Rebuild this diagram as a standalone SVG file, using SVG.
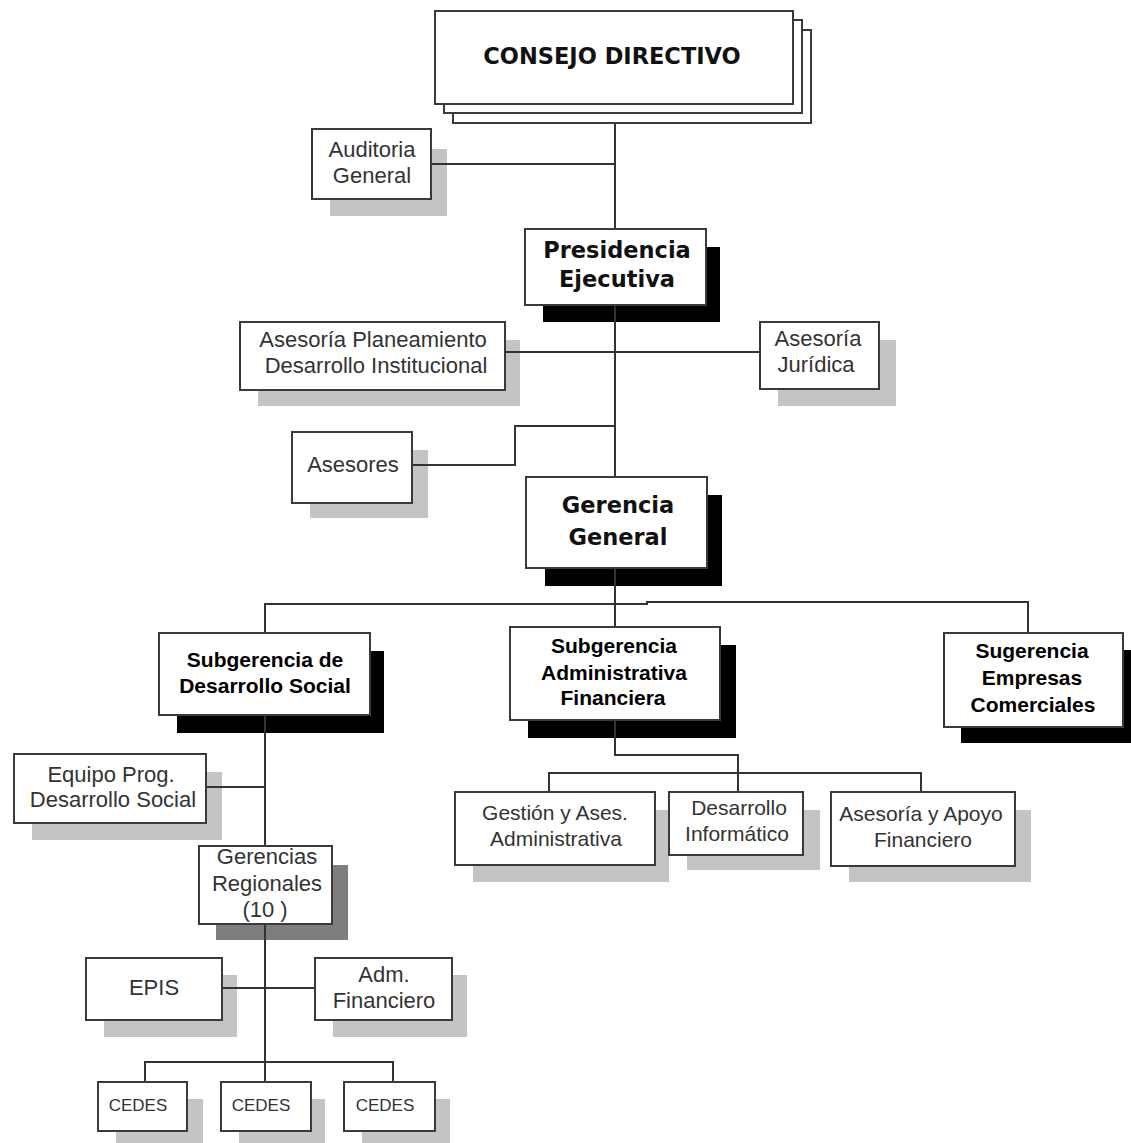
<svg xmlns="http://www.w3.org/2000/svg" width="1131" height="1143" viewBox="0 0 1131 1143">
<style>
.box{fill:#fff;stroke:#3a3a3a;stroke-width:2}
.sh{fill:#c4c4c4}
.shd{fill:#7e7e7e}
.shb{fill:#000}
.ln{fill:none;stroke:#333;stroke-width:2}
.t{font-family:"Liberation Sans",Arial,sans-serif;font-size:22px;fill:#333;text-anchor:middle}
.ts{font-size:21px}
.tc{font-size:17px}
.b{font-family:"Liberation Sans",Arial,sans-serif;font-weight:bold;font-size:21px;fill:#000;text-anchor:middle}
.v{font-family:"DejaVu Sans",Verdana,sans-serif;font-weight:bold;font-size:22.5px;fill:#111;text-anchor:middle}
</style>
<rect width="1131" height="1143" fill="#fff"/>
<g id="consejo">
<rect class="box" x="453" y="30" width="358" height="93"/>
<rect class="box" x="444" y="20" width="358" height="93"/>
<rect class="box" x="435" y="11" width="358" height="93"/>
<text class="v" x="612" y="64">CONSEJO DIRECTIVO</text>
</g>
<g id="auditoria">
<rect class="sh" x="330" y="149" width="117" height="67"/>
<rect class="box" x="312" y="129" width="119" height="70"/>
<text class="t" x="372" y="157">Auditoria</text>
<text class="t" x="372" y="183">General</text>
</g>
<g id="presidencia">
<rect class="shb" x="543" y="247" width="177" height="75"/>
<rect class="box" x="525" y="229" width="181" height="76"/>
<text class="v" x="617" y="258">Presidencia</text>
<text class="v" x="617" y="287">Ejecutiva</text>
</g>
<g id="asesoria-planeamiento">
<rect class="sh" x="258" y="340" width="262" height="66"/>
<rect class="box" x="240" y="322" width="265" height="68"/>
<text class="t" x="373" y="347">Asesoría Planeamiento</text>
<text class="t" x="376" y="373">Desarrollo Institucional</text>
</g>
<g id="asesoria-juridica">
<rect class="sh" x="778" y="340" width="118" height="66"/>
<rect class="box" x="760" y="322" width="119" height="67"/>
<text class="t" x="818" y="346">Asesoría</text>
<text class="t" x="816" y="372">Jurídica</text>
</g>
<g id="asesores">
<rect class="sh" x="310" y="450" width="118" height="68"/>
<rect class="box" x="292" y="432" width="120" height="71"/>
<text class="t" x="353" y="472">Asesores</text>
</g>
<g id="gerencia-general">
<rect class="shb" x="545" y="495" width="177" height="91"/>
<rect class="box" x="526" y="477" width="181" height="91"/>
<text class="v" x="618" y="513">Gerencia</text>
<text class="v" x="618" y="545">General</text>
</g>
<g id="subgerencia-desarrollo-social">
<rect class="shb" x="177" y="651" width="207" height="82"/>
<rect class="box" x="159" y="633" width="211" height="82"/>
<text class="b" x="265" y="667">Subgerencia de</text>
<text class="b" x="265" y="693">Desarrollo Social</text>
</g>
<g id="subgerencia-administrativa">
<rect class="shb" x="528" y="645" width="208" height="93"/>
<rect class="box" x="510" y="627" width="210" height="93"/>
<text class="b" x="614" y="653">Subgerencia</text>
<text class="b" x="614" y="680">Administrativa</text>
<text class="b" x="613" y="705">Financiera</text>
</g>
<g id="sugerencia-empresas">
<rect class="shb" x="961" y="650" width="170" height="93"/>
<rect class="box" x="944" y="633" width="179" height="94"/>
<text class="b" x="1032" y="658">Sugerencia</text>
<text class="b" x="1032" y="685">Empresas</text>
<text class="b" x="1033" y="712">Comerciales</text>
</g>
<g id="equipo-prog">
<rect class="sh" x="32" y="772" width="190" height="68"/>
<rect class="box" x="14" y="754" width="192" height="69"/>
<text class="t" x="111" y="782">Equipo Prog.</text>
<text class="t" x="113" y="807">Desarrollo Social</text>
</g>
<g id="gestion">
<rect class="sh" x="473" y="810" width="196" height="72"/>
<rect class="box" x="455" y="792" width="200" height="73"/>
<text class="t ts" x="555" y="820">Gestión y Ases.</text>
<text class="t ts" x="556" y="846">Administrativa</text>
</g>
<g id="desarrollo-informatico">
<rect class="sh" x="687" y="810" width="133" height="60"/>
<rect class="box" x="669" y="792" width="134" height="63"/>
<text class="t ts" x="739" y="815">Desarrollo</text>
<text class="t ts" x="737" y="841">Informático</text>
</g>
<g id="asesoria-apoyo">
<rect class="sh" x="849" y="810" width="182" height="72"/>
<rect class="box" x="831" y="792" width="184" height="74"/>
<text class="t ts" x="921" y="821">Asesoría y Apoyo</text>
<text class="t ts" x="923" y="847">Financiero</text>
</g>
<g id="gerencias-regionales">
<rect class="shd" x="216" y="865" width="132" height="75"/>
<rect class="box" x="199" y="846" width="133" height="78"/>
<text class="t" x="267" y="864">Gerencias</text>
<text class="t" x="267" y="891">Regionales</text>
<text class="t" x="265" y="917">(10 )</text>
</g>
<g id="epis">
<rect class="sh" x="104" y="975" width="133" height="62"/>
<rect class="box" x="86" y="958" width="136" height="62"/>
<text class="t" x="154" y="995">EPIS</text>
</g>
<g id="adm-financiero">
<rect class="sh" x="333" y="975" width="134" height="62"/>
<rect class="box" x="315" y="958" width="137" height="62"/>
<text class="t" x="384" y="982">Adm.</text>
<text class="t" x="384" y="1008">Financiero</text>
</g>
<g id="cedes-1">
<rect class="sh" x="116" y="1099" width="87" height="44"/>
<rect class="box" x="98" y="1082" width="89" height="49"/>
<text class="t tc" x="138" y="1111">CEDES</text>
</g>
<g id="cedes-2">
<rect class="sh" x="239" y="1099" width="86" height="44"/>
<rect class="box" x="221" y="1082" width="90" height="49"/>
<text class="t tc" x="261" y="1111">CEDES</text>
</g>
<g id="cedes-3">
<rect class="sh" x="362" y="1099" width="88" height="44"/>
<rect class="box" x="344" y="1082" width="91" height="49"/>
<text class="t tc" x="385" y="1111">CEDES</text>
</g>
<g id="connectors">
<path class="ln" d="M615,124 V228"/>
<path class="ln" d="M432,164 H615"/>
<path class="ln" d="M615,306 V476"/>
<path class="ln" d="M506,352 H759"/>
<path class="ln" d="M413,465 H515 V426 H615"/>
<path class="ln" d="M615,569 V626"/>
<path class="ln" d="M265,632 V604 H647 V602 H1028 V632"/>
<path class="ln" d="M265,716 V845"/>
<path class="ln" d="M207,787 H265"/>
<path class="ln" d="M615,721 V755 H738 V791"/>
<path class="ln" d="M549,791 V773 H921 V791"/>
<path class="ln" d="M265,925 V1081"/>
<path class="ln" d="M223,988 H314"/>
<path class="ln" d="M145,1081 V1062 H393 V1081"/>
</g>
</svg>
